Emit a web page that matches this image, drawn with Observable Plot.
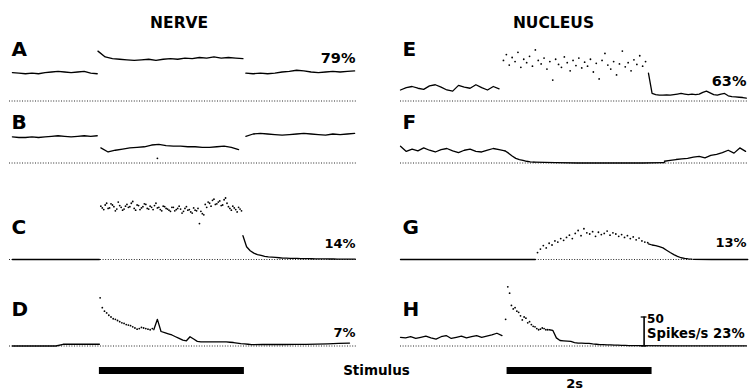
<!DOCTYPE html>
<html><head><meta charset="utf-8">
<script src="https://cdn.jsdelivr.net/npm/d3@7"></script>
<script src="https://cdn.jsdelivr.net/npm/@observablehq/plot@0.6"></script>
<style>
html,body{margin:0;padding:0;background:#fff;}
#chart svg{display:block;}
</style></head><body><div id="chart"></div>
<script>
// ---------------- DATA (time in s from trace start, rate in spikes/s) ----------------
const columns = ["NERVE", "NUCLEUS"];
const panelsNerve = ["A", "B", "C", "D"];
const panelsNucleus = ["E", "F", "G", "H"];
const percentLabels = {A: "79%", C: "14%", D: "7%", E: "63%", G: "13%"};
const headerLabels = ["NERVE", "NUCLEUS"];
const stimulusLabel = "Stimulus";
const durationLabel = "2s";
const scaleLabels = ["50", "Spikes/s 23%"];
const stimOnset = {NERVE: 1.2, NUCLEUS: 1.43};
const stimDuration = 2;
const scaleBarValue = 50;
const scaleBarTime = 3.32;

// A
const A_pre  = [49, 48, 47, 48, 47, 49, 50, 51, 50, 49, 50, 51, 48, 47];
const A_stim = [86, 76, 73, 72, 71, 70, 71, 72, 70, 72, 73, 72, 74, 73, 75, 74, 76, 74, 75, 74, 73];
const A_post = [48, 47, 48, 47, 48, 50, 51, 53, 52, 50, 49, 50, 51, 50, 51, 52];
// B
const B_pre  = [45, 44, 44, 45, 44, 45, 46, 47, 46, 45, 46, 47, 46, 47];
const B_stim = [26, 19, 22, 24, 26, 27, 28, 31, 32, 30, 29, 29, 28, 28, 27, 27, 28, 29, 27, 23];
const B_post = [46, 50, 51, 50, 49, 48, 49, 50, 51, 50, 49, 48, 50, 49, 50, 51];
const B_stray = [8];
// C
const C_pre   = [0, 0, 0];
const C_stim  = [92, 86, 97, 89, 94, 84, 99, 90, 87, 95, 91, 100, 85, 93, 89, 96, 88, 92, 86, 97,
                 90, 84, 91, 87, 83, 90, 86, 92, 80, 88, 85, 82, 89, 84, 62, 79, 95, 99, 92, 104,
                 96, 101, 94, 106, 91, 85, 89, 82, 87];
const C_stim2 = [89, 94, 88, 96, 91, 87, 93, 85, 92, 90, 97, 88, 94, 86, 91, 95, 87, 90, 93, 89,
                 86, 92, 88, 85, 90, 84, 88, 87, 83, 91, 86, 80, 85, 88, 83, 77, 90, 97, 102, 95,
                 99, 93, 103, 97, 88, 92, 86, 90, 84];
const C_post  = [41, 22, 15, 11, 8.5, 7, 5.5, 4.5, 4, 3.5, 3, 2.5, 2.3, 2.1, 2, 1.8, 1.6, 1.5, 1.4, 1.3,
                 1.2, 1.1, 1, 1, 0.9, 0.9, 0.8, 0.8, 0.7, 0.7, 0.6, 0.6];
// D
const D_pre   = [0, 0, 0, 0, 0, 0, 0, 3, 3, 3, 3, 3, 3];
const D_dots  = [83, 66, 60, 57, 53, 50, 47, 46, 44, 42, 40, 39, 37, 36, 35, 33, 31, 29, 30, 32, 31, 30, 29, 28, 30];
const D_line1 = [28, 46, 25, 23, 21, 19, 16, 13, 10, 9, 16, 12, 8, 7, 7, 7, 7, 7, 7, 7, 7, 6.5, 6, 5, 4, 3.5, 3, 2.5];
const D_line2 = [2.5, 2.6, 2.6, 2.6, 2.7, 2.9, 3.3, 3.8, 4.4, 5];
// E
const E_pre  = [19, 23, 25, 22, 20, 26, 28, 24, 19, 17, 27, 24, 22, 28, 23, 19, 25, 21];
const E_dots = [70, 80, 62, 75, 68, 84, 58, 72, 66, 77, 60, 88, 70, 64, 74, 55, 68, 36, 72, 63,
                58, 76, 66, 52, 70, 61, 74, 57, 67, 60, 72, 50, 65, 38, 70, 82, 62, 55, 68, 45,
                64, 86, 59, 66, 52, 71, 63, 78, 60, 68];
const E_post = [48, 13, 11, 10, 10, 10.5, 10, 11, 12, 13, 12, 11, 12, 11, 12, 15, 17, 14, 11, 10,
                12, 13, 9, 7.5, 7, 6.5, 6, 5];
// F
const F_pre  = [29, 20, 24, 21, 26, 22, 19, 23, 25, 21, 18, 22, 24, 20, 19, 22, 25, 23, 21];
const F_fall = [21, 17, 12, 8, 6, 4.5, 3, 2, 1.5];
const F_flat = [1.5, 0.5, 0, 0, 0, 0, 0.5];
const F_rise = [3, 4.5, 6, 7, 8, 10, 11.5, 9, 13, 15, 18, 22, 17, 26, 20];
// G
const G_pre  = [0, 0, 0, 0];
const G_dots = [12, 18, 24, 20, 28, 25, 32, 30, 36, 33, 38, 42, 36, 45, 50, 41, 53, 46, 44, 48,
                40, 47, 43, 45, 49, 42, 46, 44, 40, 43, 38, 41, 36, 39, 34, 37, 32, 30, 29];
const G_post = [27, 25, 24, 22, 20, 16, 12, 8.5, 5.5, 3, 2, 1.2, 0.6];
const G_tail = [0.3, 0, 0, 0];
// H
const H_pre   = [15, 14, 16, 13, 15, 17, 14, 12, 16, 18, 13, 15, 17, 14, 16, 18, 15, 17, 19, 22, 18];
const H_dots  = [102, 91, 70, 64, 66, 60, 58, 52, 45, 50, 48, 40, 42, 37, 34, 33, 30, 28, 29, 31, 30, 28, 28];
const H_stray = [46];
const H_post  = [28, 27, 14, 9.5, 9, 8.5, 8, 6, 5, 5, 4.5, 4.5, 3.5, 3, 2.5, 2.2, 2, 1.8, 1.6, 1.4,
                 1.2, 1, 0.8, 0.6, 0.5, 0.5];
const H_tail  = [0.5, 0.3, 0.3, 0.3];

// segment table: [panel, kind, startTime, step, values]
const segments = [
  ["A", "line", 0, 0.09, A_pre], ["A", "line", 1.18, 0.1, A_stim], ["A", "line", 3.22, 0.1, A_post],
  ["B", "line", 0, 0.09, B_pre], ["B", "line", 1.22, 0.1, B_stim], ["B", "line", 3.22, 0.1, B_post], ["B", "dots", 2.0, 0, B_stray],
  ["C", "line", 0, 0.6, C_pre], ["C", "dots", 1.22, 0.04, C_stim], ["C", "dots", 1.24, 0.04, C_stim2], ["C", "line", 3.18, 0.05, C_post],
  ["D", "line", 0, 0.1, D_pre], ["D", "dots", 1.21, 0.03, D_dots], ["D", "line", 1.95, 0.05, D_line1], ["D", "line", 3.3, 0.15, D_line2],
  ["E", "line", -0.04, 0.08, E_pre], ["E", "dots", 1.38, 0.04, E_dots], ["E", "line", 3.38, 0.05, E_post],
  ["F", "line", -0.04, 0.08, F_pre], ["F", "line", 1.4, 0.05, F_fall], ["F", "line", 1.8, 0.3, F_flat], ["F", "line", 3.6, 0.08, F_rise],
  ["G", "line", -0.04, 0.62, G_pre], ["G", "dots", 1.85, 0.04, G_dots], ["G", "line", 3.38, 0.05, G_post], ["G", "line", 4.0, 0.25, G_tail],
  ["H", "line", -0.04, 0.07, H_pre], ["H", "dots", 1.44, 0.025, H_dots], ["H", "dots", 1.41, 0, H_stray], ["H", "line", 2.01, 0.05, H_post], ["H", "line", 3.26, 0.49, H_tail]
];

// ---------------- LAYOUT ----------------
const PX_PER_UNIT = 0.58;            // 50 spikes/s = 29 px
const xDomain = [-0.04, 4.76];
const headerT = {NERVE: 2.3, NUCLEUS: 2.07};
const rows = [
  {panels: ["A", "E"], top: 0,   bottom: 110, base: 100.5, letterDy: -51},
  {panels: ["B", "F"], top: 110, bottom: 185, base: 162.5, letterDy: -40},
  {panels: ["C", "G"], top: 185, bottom: 275, base: 259,   letterDy: -32},
  {panels: ["D", "H"], top: 275, bottom: 391, base: 345.5, letterDy: -36.5}
];
const pctStyle = {A: {dy: -43, size: 14.5}, E: {dy: -19.5, size: 14.5}, C: {dy: -15.5, size: 13},
                  G: {dy: -16.5, size: 13}, D: {dy: -13, size: 13}};

const colOf = p => panelsNerve.includes(p) ? "NERVE" : "NUCLEUS";
const points = [];
segments.forEach(([panel, kind, t0, dt, vals], si) =>
  vals.forEach((v, i) => points.push({panel, col: colOf(panel), kind, seg: si, t: t0 + i * dt, v})));

const zero = () => 0;
const bold = {fontWeight: "bold", fill: "#000"};

function rowPlot(r, idx) {
  const height = r.bottom - r.top;
  const P = points.filter(d => r.panels.includes(d.panel));
  const marks = [
    Plot.ruleY(columns.map(c => ({col: c})), {fx: "col", y: zero, stroke: "#111", strokeWidth: 0.9, strokeDasharray: "1,1.6"}),
    Plot.line(P.filter(d => d.kind === "line"), {fx: "col", x: "t", y: "v", z: "seg", stroke: "#000", strokeWidth: 1.3}),
    Plot.dot(P.filter(d => d.kind === "dots"), {fx: "col", x: "t", y: "v", r: 0.9, fill: "#000", stroke: null}),
    Plot.text(r.panels.map(p => ({col: colOf(p), label: p})), {fx: "col", y: zero, text: "label",
      frameAnchor: "left", textAnchor: "start", lineAnchor: "middle", dx: 2, dy: r.letterDy, fontSize: 20, ...bold})
  ];
  r.panels.filter(p => percentLabels[p]).forEach(p => {
    marks.push(Plot.text([{col: colOf(p), label: percentLabels[p]}], {fx: "col", y: zero, text: "label",
      frameAnchor: "right", textAnchor: "end", lineAnchor: "middle", dx: -2, dy: pctStyle[p].dy, fontSize: pctStyle[p].size, ...bold}));
  });
  if (idx === 0) {
    marks.push(Plot.text(columns.map((c, i) => ({col: c, t: headerT[c], label: headerLabels[i]})), {fx: "col", x: "t", y: zero,
      text: "label", lineAnchor: "middle", dy: -78, fontSize: 15.5, ...bold}));
  }
  if (idx === 3) {
    const stim = columns.map(c => ({col: c, on: stimOnset[c], off: stimOnset[c] + stimDuration}));
    marks.push(
      Plot.ruleY(stim, {fx: "col", x1: "on", x2: "off", y: zero, dy: 24.5, stroke: "#000", strokeWidth: 7}),
      Plot.text([{col: "NERVE", label: stimulusLabel}], {fx: "col", y: zero, text: "label", frameAnchor: "right",
        textAnchor: "middle", lineAnchor: "middle", dx: 19, dy: 25, fontSize: 13.5, ...bold}),
      Plot.text([{col: "NUCLEUS", t: stimOnset.NUCLEUS + stimDuration / 2, label: durationLabel}], {fx: "col", x: "t", y: zero,
        text: "label", lineAnchor: "middle", dx: -5, dy: 38, fontSize: 13, ...bold}),
      Plot.ruleX([{col: "NUCLEUS", t: scaleBarTime}], {fx: "col", x: "t", y1: zero, y2: () => scaleBarValue, stroke: "#000", strokeWidth: 1.6}),
      Plot.ruleY([{col: "NUCLEUS", v: 0}, {col: "NUCLEUS", v: scaleBarValue}], {fx: "col", y: "v",
        x1: () => scaleBarTime - 0.04, x2: () => scaleBarTime + 0.04, stroke: "#000", strokeWidth: 1.3}),
      Plot.text([{col: "NUCLEUS", t: scaleBarTime, v: scaleBarValue, label: scaleLabels[0]}], {fx: "col", x: "t", y: "v",
        text: "label", textAnchor: "start", lineAnchor: "top", dx: 3, dy: -3, fontSize: 12, ...bold}),
      Plot.text([{col: "NUCLEUS", t: scaleBarTime, label: scaleLabels[1]}], {fx: "col", x: "t", y: zero,
        text: "label", textAnchor: "start", lineAnchor: "middle", dx: 3, dy: -12, fontSize: 13.2, ...bold})
    );
  }
  return Plot.plot({
    width: 750, height,
    marginLeft: 9, marginRight: 2, marginTop: 0, marginBottom: r.bottom - r.base,
    style: {fontFamily: "DejaVu Sans", background: "white", color: "black", overflow: "visible"},
    x: {domain: xDomain, axis: null},
    y: {domain: [0, (r.base - r.top) / PX_PER_UNIT], axis: null},
    fx: {domain: columns, paddingInner: 0.11, paddingOuter: 0, axis: null},
    marks
  });
}

const root = document.getElementById("chart");
rows.forEach((r, i) => root.appendChild(rowPlot(r, i)));
</script></body></html>
